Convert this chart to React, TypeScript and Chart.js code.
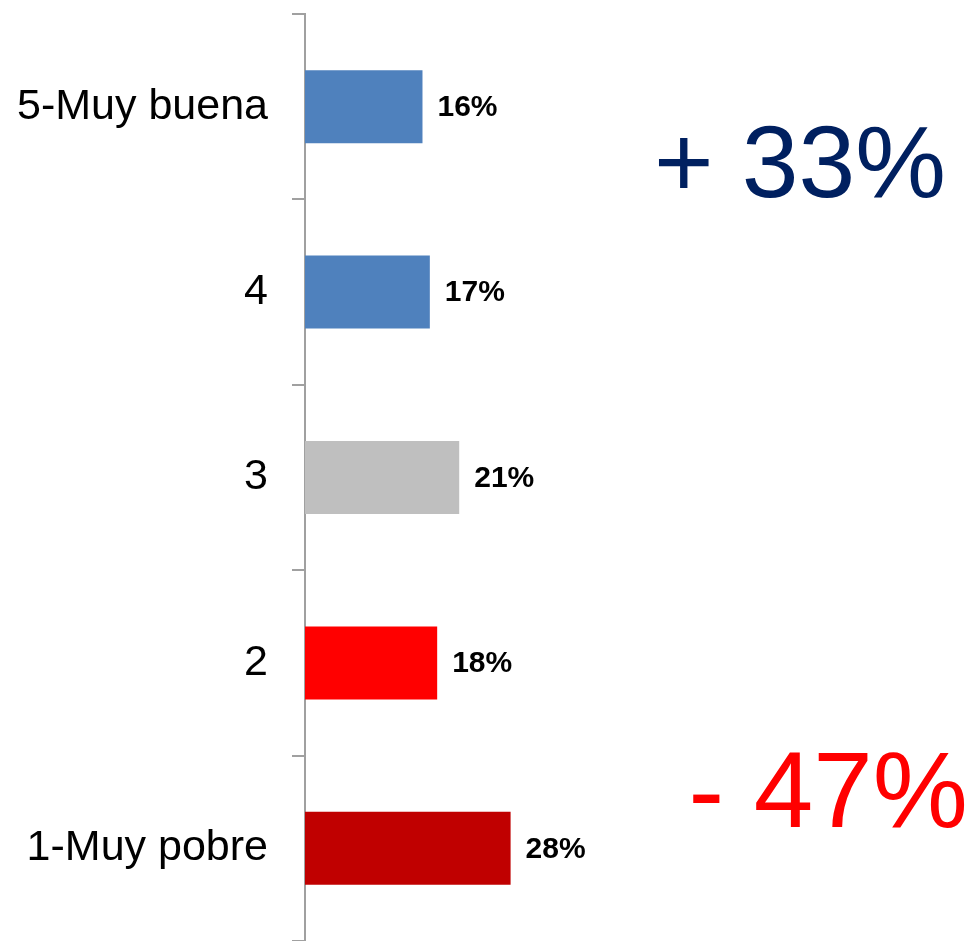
import React, { useEffect, useRef } from "react";
import { Chart, registerables } from "chart.js";

Chart.register(...registerables);

const categories = ["5-Muy buena", "4", "3", "2", "1-Muy pobre"];
const values = [16, 17, 21, 18, 28];
const barColors = ["#4F81BD", "#4F81BD", "#BFBFBF", "#FF0000", "#C00000"];
const positiveLabel = "+ 33%";
const negativeLabel = "- 47%";

const FONT = "'Liberation Sans', Arial, Helvetica, sans-serif";

const valueLabelPlugin = {
  id: "valueLabels",
  afterDatasetsDraw(chart: any) {
    const ctx = chart.ctx;
    const meta = chart.getDatasetMeta(0);
    ctx.save();
    ctx.font = `bold 30px ${FONT}`;
    ctx.fillStyle = "#000000";
    ctx.textAlign = "left";
    ctx.textBaseline = "middle";
    meta.data.forEach((bar: any, i: number) => {
      ctx.fillText(`${values[i]}%`, bar.x + 15, bar.y + 1);
    });
    ctx.restore();
  },
};

const bigTextPlugin = {
  id: "bigText",
  afterDraw(chart: any) {
    const ctx = chart.ctx;
    const { width, height } = chart;
    ctx.save();
    ctx.textAlign = "right";
    ctx.textBaseline = "alphabetic";
    ctx.font = `102px ${FONT}`;
    ctx.fillStyle = "#002060";
    ctx.fillText(positiveLabel, width - 25, height * 0.2095);
    ctx.font = `107px ${FONT}`;
    ctx.fillStyle = "#FF0000";
    ctx.fillText(negativeLabel, width - 3, height * 0.879);
    ctx.restore();
  },
};

export default function App() {
  const ref = useRef<HTMLCanvasElement>(null);
  useEffect(() => {
    if (!ref.current) return;
    const chart = new Chart(ref.current, {
      type: "bar",
      data: {
        labels: categories,
        datasets: [
          {
            data: values,
            backgroundColor: barColors,
            borderWidth: 0,
            categoryPercentage: 1,
            barPercentage: 0.394,
          },
        ],
      },
      options: {
        indexAxis: "y",
        animation: false,
        responsive: false,
        maintainAspectRatio: false,
        layout: { padding: { top: 14, right: 0, bottom: 0, left: 0 } },
        plugins: {
          legend: { display: false },
          tooltip: { enabled: false },
        },
        scales: {
          x: {
            display: false,
            min: 0,
            max: 90.7,
          },
          y: {
            type: "category",
            afterFit(scale: any) {
              scale.width = 305;
              scale.paddingTop = 0;
              scale.paddingBottom = 0;
            },
            grid: {
              offset: true,
              drawOnChartArea: false,
              drawTicks: true,
              tickLength: 13,
              color: "#A0A0A0",
              lineWidth: 2,
            },
            border: { display: true, color: "#A0A0A0", width: 2 },
            ticks: {
              padding: 24,
              color: "#000000",
              font: { family: FONT, size: 43 },
            },
          },
        },
      },
      plugins: [valueLabelPlugin, bigTextPlugin],
    });
    return () => chart.destroy();
  }, []);
  return (
    <div style={{ position: "fixed", left: 0, top: 0, width: 971, height: 941, background: "#fff" }}>
      <canvas ref={ref} width={971} height={941} style={{ display: "block" }} />
    </div>
  );
}
